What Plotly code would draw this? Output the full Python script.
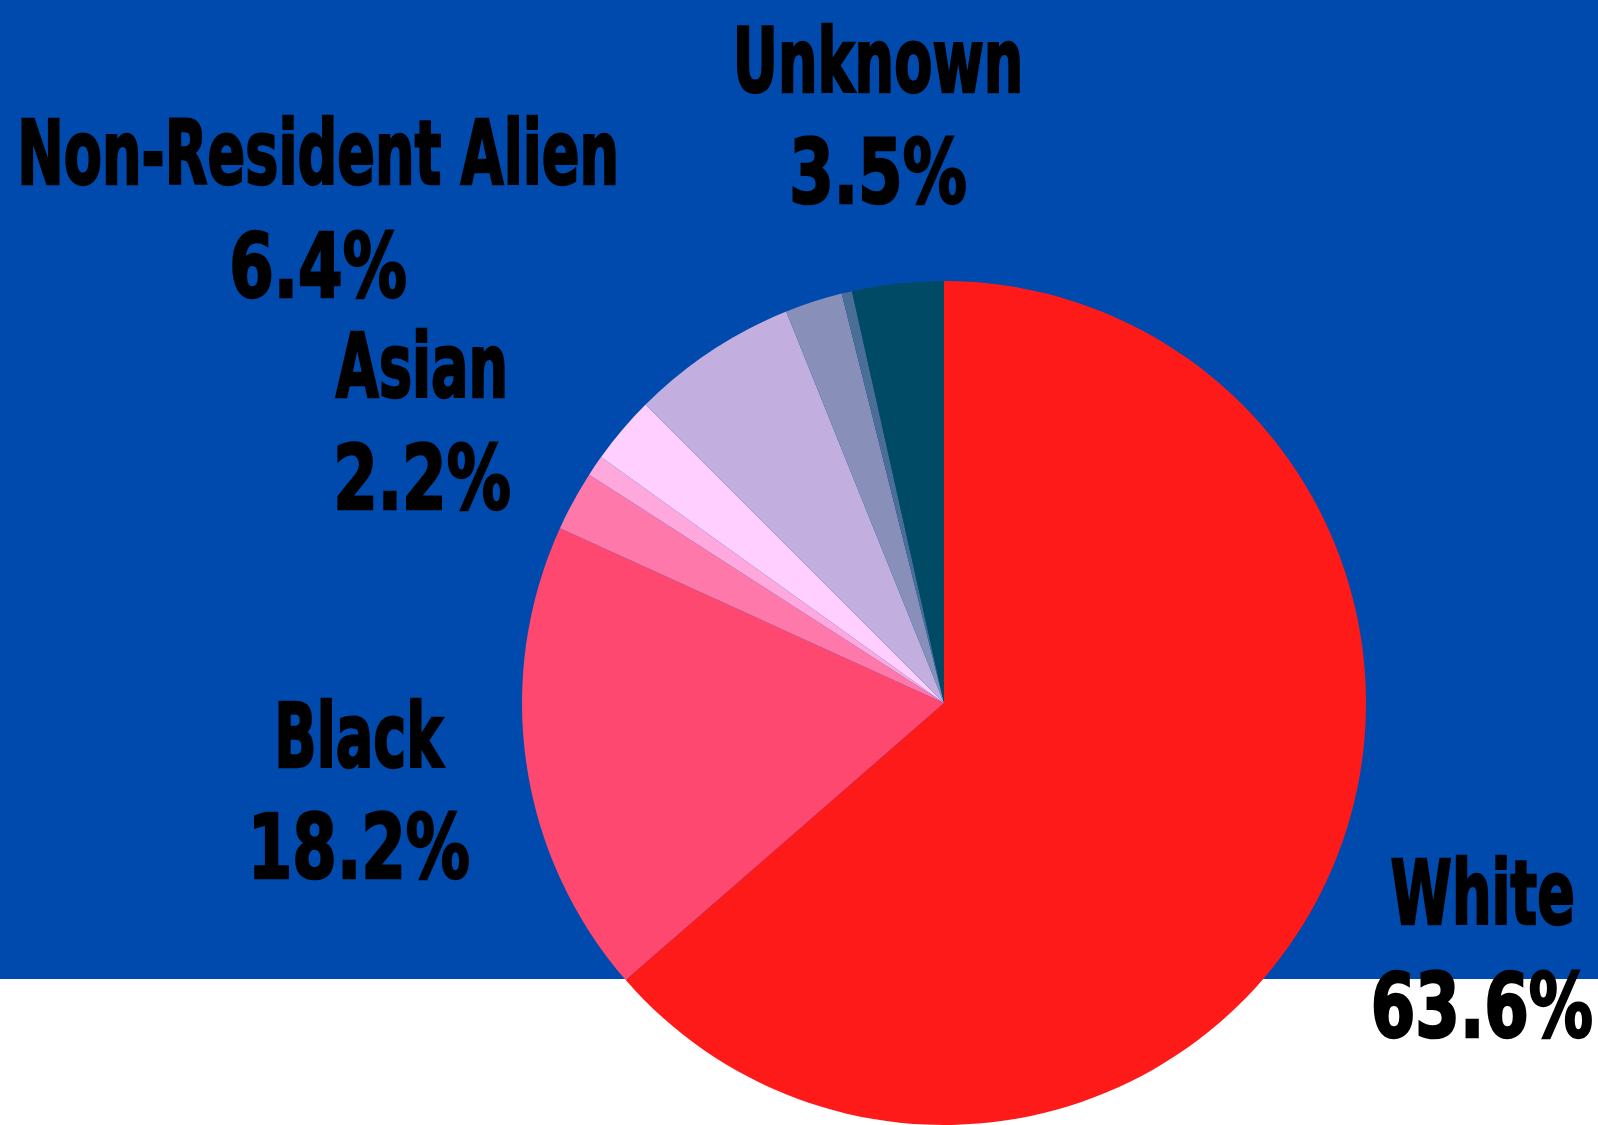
import plotly.graph_objects as go

# Data
categories = ["White", "Black", "Two or More Races", "American Indian", "Hispanic",
              "Non-Resident Alien", "Asian", "Pacific Islander", "Unknown"]
values = [63.6, 18.2, 2.3, 0.8, 2.6, 6.4, 2.2, 0.4, 3.5]
labeled = ["White", "Black", "Asian", "Non-Resident Alien", "Unknown"]

# Styles / layout
slice_colors = ["#FF1A1A", "#FF4870", "#FF78AA", "#FFA8DD", "#FFD0FF",
                "#C3AEE0", "#8890BA", "#4A6E96", "#004A66"]
W, H = 1598, 1125
# (x center, name line y center, value line y center) in pixels
label_pos_px = {
    "Unknown": (878, 61, 172),
    "Non-Resident Alien": (318, 153, 266),
    "Asian": (422, 366, 478),
    "Black": (359, 736, 847),
    "White": (1482, 893, 1006),
}
FONT = "DejaVu Sans Condensed, Liberation Sans Narrow, Liberation Sans, sans-serif"
FONT_SIZE = 89
NAME_SQUEEZE = 0.695
VALUE_SQUEEZE = 0.80

fig = go.Figure()
fig.add_trace(go.Pie(
    labels=categories,
    values=values,
    sort=False,
    direction="clockwise",
    rotation=0,
    marker=dict(colors=slice_colors, line=dict(width=0)),
    textinfo="none",
    hoverinfo="label+percent",
    domain=dict(x=[(944 - 422) / W, (944 + 422) / W], y=[0, 844 / H]),
    showlegend=False,
))

fig.add_shape(type="rect", xref="paper", yref="paper", x0=0, x1=1,
              y0=1 - 979 / H, y1=1, fillcolor="#004AAD", line=dict(width=0),
              layer="below")

for name in labeled:
    v = values[categories.index(name)]
    px, py1, py2 = label_pos_px[name]
    for txt, py in ((name, py1), (f"{v}%", py2)):
        fig.add_annotation(
            x=px / W, y=1 - py / H, xref="paper", yref="paper",
            xanchor="center", yanchor="middle", showarrow=False,
            text=txt,
            font=dict(family=FONT, size=FONT_SIZE, color="#000000", weight="bold"),
        )

fig.update_layout(
    width=W, height=H,
    margin=dict(l=0, r=0, t=0, b=0),
    paper_bgcolor="#FFFFFF",
    plot_bgcolor="#FFFFFF",
)

squeeze_js = """
document.body.style.margin='0';
document.body.style.overflow='hidden';
function squeezeText(){
  var els = document.querySelectorAll('text.annotation-text');
  els.forEach(function(t){
    t.removeAttribute('transform');
    var s = (t.textContent.indexOf('%%') >= 0) ? %s : %s;
    var b = t.getBBox();
    var cx = b.x + b.width/2;
    t.setAttribute('transform', 'translate(' + cx + ',0) scale(' + s + ',1) translate(' + (-cx) + ',0)');
    t.style.stroke = '#000000';
    t.style.strokeWidth = '2.5px';
  });
}
squeezeText();
setTimeout(squeezeText, 50);
""" % (VALUE_SQUEEZE, NAME_SQUEEZE)

fig.write_html("out.html", config={"displayModeBar": False}, post_script=squeeze_js)
